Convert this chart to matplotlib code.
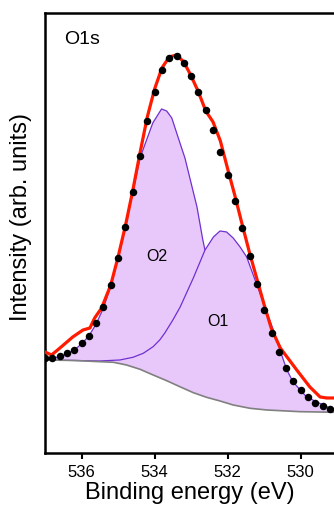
import numpy as np
import matplotlib
matplotlib.use('Agg')
import matplotlib.pyplot as plt

''' Data (binding energy in eV, intensity in arb. units) '''
# measured points
data_x = [537.0, 536.8, 536.6, 536.4, 536.2, 536.0, 535.8, 535.6, 535.4, 535.2,
          535.0, 534.8, 534.6, 534.4, 534.2, 534.0, 533.8, 533.6, 533.4, 533.2,
          533.0, 532.8, 532.6, 532.4, 532.2, 532.0, 531.8, 531.6, 531.4, 531.2,
          531.0, 530.8, 530.6, 530.4, 530.2, 530.0, 529.8, 529.6, 529.4, 529.2]
data_y = [95, 95, 97, 100, 103, 110, 117, 130, 146, 168,
          195, 226, 261, 297, 332, 361, 383, 395, 397, 390,
          377, 361, 343, 323, 301, 278, 252, 225, 197, 169,
          143, 120, 101, 85, 72, 63, 56, 50, 47, 44]

# envelope (red)
fit_x = [537.0, 536.82, 536.59, 536.24, 535.96, 535.77, 535.64, 535.45, 535.2, 535.0,
         534.8, 534.6, 534.4, 534.2, 534.0, 533.8, 533.6, 533.4, 533.2, 533.0,
         532.8, 532.6, 532.4, 532.2, 532.0, 531.8, 531.6, 531.4, 531.2, 531.0,
         530.8, 530.56, 530.11, 529.75, 529.47, 529.29, 529.1]
fit_y = [101, 98, 105, 116, 123, 125, 135, 145, 168, 196,
         227, 262, 300, 336, 364, 385, 396, 398, 391, 377,
         361, 342, 331, 312, 284, 257, 228, 200, 174, 148,
         124, 105, 83, 66, 56, 55, 55]

# background (grey)
bg_x = [537.0, 536.2, 535.5, 535.13, 534.77, 534.4, 534.04, 533.67, 533.31, 532.94,
        532.58, 532.21, 531.85, 531.39, 530.93, 530.02, 529.1]
bg_y = [93, 92.5, 91.3, 90.7, 88, 83.7, 78, 72.3, 66.3, 60.3,
        55.7, 52, 48, 44.7, 43, 41.3, 40.7]

# O2 component
o2_x = [537.0, 536.8, 536.6, 536.4, 536.2, 536.0, 535.8, 535.6, 535.4, 535.2,
        535.0, 534.8, 534.6, 534.4, 534.22, 534.05, 533.81, 533.67, 533.53, 533.36,
        533.17, 532.84, 532.68, 532.4, 532.0, 531.6, 531.0, 530.4, 529.8, 529.1]
o2_y = [94, 95, 96, 99, 103, 109, 117, 129, 145, 167,
        195, 226, 260, 295, 313, 330, 344, 342, 335, 316,
        295, 246, 213, 165, 118, 88, 62, 50, 44, 41]

# O1 component
o1_x = [537.0, 536.2, 535.5, 534.95, 534.59, 534.31, 534.04, 533.86, 533.72, 533.5,
        533.3, 532.94, 532.62, 532.39, 532.21, 532.03, 531.85, 531.66, 531.48, 531.3,
        531.12, 530.93, 530.75, 530.57, 530.38, 530.21, 529.84, 529.1]
o1_y = [93, 92.5, 92, 93, 95.7, 99.7, 106.3, 113, 120, 133,
        146, 175, 203, 216, 222, 221, 215, 206, 196, 178,
        160, 141, 123, 103, 83, 71, 56, 43]

xticks = [536, 534, 532, 530]

''' Styles '''
fill_color = '#e8c8fa'
comp_color = '#7030d0'
plt.rcParams['font.family'] = ['Liberation Sans', 'DejaVu Sans']

''' Graphing '''
fig = plt.figure(figsize=(3.34, 5.13), dpi=100)
ax = fig.add_axes([0.1347, 0.117, 0.8653, 0.8577])

# component fills: area between background and each peak
ax.fill(np.concatenate([o2_x, bg_x[::-1]]), np.concatenate([o2_y, bg_y[::-1]]),
        color=fill_color, lw=0, zorder=1)
ax.plot(o2_x, o2_y, color=comp_color, lw=0.9, zorder=2)
ax.fill(np.concatenate([o1_x, bg_x[::-1]]), np.concatenate([o1_y, bg_y[::-1]]),
        color=fill_color, lw=0, zorder=3)
ax.plot(o1_x, o1_y, color=comp_color, lw=0.9, zorder=4)
ax.plot(bg_x, bg_y, color='#808080', lw=1.2, zorder=5)
ax.plot(fit_x, fit_y, color='#ff1a00', lw=2.3, zorder=6)
ax.plot(data_x, data_y, 'o', color='black', ms=5.4, mec='none', zorder=7)

ax.text(0.128, 0.939, 'O1s', transform=ax.transAxes, fontsize=14, ha='center', va='center')
ax.text(533.94, 196, 'O2', fontsize=11.5, ha='center', va='center', zorder=8)
ax.text(532.27, 131, 'O1', fontsize=11.5, ha='center', va='center', zorder=8)

ax.set_xlim(537, 529.09)
ax.set_ylim(0, 440)
ax.set_xticks(xticks)
ax.set_yticks([])
ax.tick_params(axis='x', direction='out', length=4, width=1.5, labelsize=12, pad=5)
for side in ['left', 'bottom', 'top']:
    ax.spines[side].set_linewidth(1.8)
ax.spines['right'].set_visible(False)

ax.set_xlabel('Binding energy (eV)', fontsize=17, labelpad=1)
ax.set_ylabel('Intensity (arb. units)', fontsize=17)
ax.yaxis.set_label_coords(-0.045, 0.536)

fig.savefig('out.png', dpi=100)
